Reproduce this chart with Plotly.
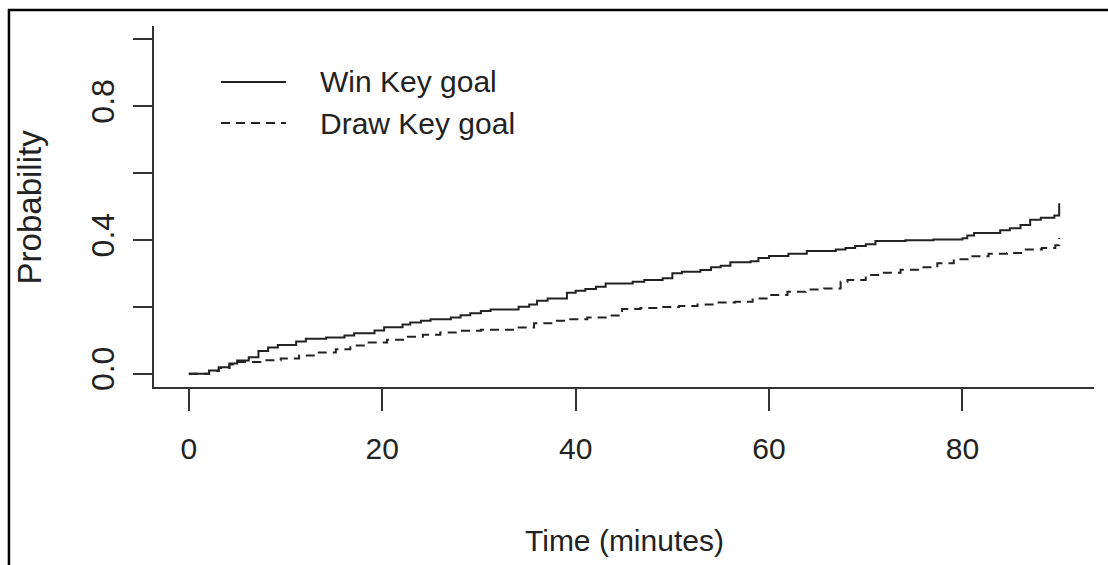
import plotly.graph_objects as go

# Cumulative probability of a key goal by match minute (step functions)
win_time = [0, 2.1, 3.1, 4.2, 5.0, 6.2, 7.2, 8.2, 9.2, 11.1, 12.1, 14.2, 16.1, 17.1,
            19.2, 20.2, 22.1, 22.9, 24.0, 25.0, 27.1, 28.1, 29.1, 30.2, 31.2, 34.1,
            35.2, 36.0, 37.1, 39.1, 40.0, 41.0, 42.1, 43.1, 45.9, 47.1, 49.0, 50.0,
            51.0, 52.9, 54.0, 55.0, 56.0, 58.1, 58.9, 60.0, 62.0, 63.9, 66.9, 67.9,
            68.9, 70.0, 71.0, 74.1, 77.0, 80.0, 80.5, 81.2, 83.9, 84.9, 86.0, 87.0,
            88.1, 89.5, 90.0]
win_prob = [0.0, 0.009, 0.019, 0.030, 0.039, 0.049, 0.068, 0.078, 0.086, 0.096, 0.104,
            0.108, 0.114, 0.121, 0.129, 0.139, 0.147, 0.153, 0.158, 0.163, 0.168,
            0.175, 0.181, 0.187, 0.192, 0.200, 0.207, 0.218, 0.225, 0.242, 0.248,
            0.253, 0.260, 0.270, 0.275, 0.280, 0.285, 0.300, 0.305, 0.310, 0.318,
            0.323, 0.333, 0.336, 0.346, 0.352, 0.359, 0.367, 0.371, 0.376, 0.382,
            0.387, 0.397, 0.399, 0.401, 0.405, 0.413, 0.421, 0.429, 0.435, 0.445,
            0.460, 0.466, 0.473, 0.510]

draw_time = [0, 2.1, 3.1, 4.2, 5.0, 7.4, 9.5, 11.4, 13.3, 15.2, 16.7, 18.6, 20.5, 22.3,
             24.2, 26.0, 28.1, 30.2, 33.8, 35.7, 37.6, 39.3, 41.2, 43.1, 44.8, 46.7,
             48.6, 50.7, 52.6, 54.5, 56.5, 58.3, 60.0, 61.9, 63.8, 65.7, 67.4, 68.1,
             70.0, 71.7, 73.6, 75.5, 77.4, 79.1, 80.8, 82.7, 84.6, 86.3, 88.2, 89.6,
             90.0]
draw_prob = [0.0, 0.008, 0.017, 0.027, 0.035, 0.040, 0.045, 0.054, 0.063, 0.073, 0.084,
             0.093, 0.101, 0.110, 0.116, 0.123, 0.128, 0.131, 0.138, 0.151, 0.158,
             0.163, 0.168, 0.174, 0.193, 0.196, 0.199, 0.202, 0.207, 0.213, 0.215,
             0.225, 0.235, 0.245, 0.252, 0.255, 0.275, 0.280, 0.295, 0.302, 0.311,
             0.318, 0.330, 0.342, 0.351, 0.359, 0.361, 0.371, 0.376, 0.384, 0.406]

series_names = ["Win Key goal", "Draw Key goal"]
x_ticks = [0, 20, 40, 60, 80]
y_ticks = [0.0, 0.2, 0.4, 0.6, 0.8, 1.0]
y_tick_text = ["0.0", "", "0.4", "", "0.8", ""]

INK = "#222222"
FONT = "Liberation Sans, Arial, sans-serif"
DASH = "9px,6px"

fig = go.Figure()
fig.add_trace(go.Scatter(x=win_time, y=win_prob, mode="lines", line_shape="hv",
                         name=series_names[0],
                         line=dict(color=INK, width=2)))
fig.add_trace(go.Scatter(x=draw_time, y=draw_prob, mode="lines", line_shape="hv",
                         name=series_names[1],
                         line=dict(color=INK, width=2, dash=DASH)))

fig.update_layout(
    width=1108, height=565,
    margin=dict(l=154, r=14, t=26, b=178),
    plot_bgcolor="white", paper_bgcolor="white",
    showlegend=False,
    font=dict(family=FONT, size=30, color=INK),
)

fig.update_xaxes(range=[-3.6, 93.6], tickvals=x_ticks, ticks="outside", ticklen=22,
                 tickwidth=1.6, tickcolor="#333", showline=True, linecolor="#333",
                 linewidth=2, showgrid=False, zeroline=False,
                 ticklabelstandoff=12,
                 tickfont=dict(family=FONT, size=30, color=INK))
fig.update_yaxes(range=[-0.04, 1.04], tickvals=y_ticks, ticktext=y_tick_text,
                 ticks="outside", ticklen=19, tickwidth=1.6, tickcolor="#333",
                 showline=True, linecolor="#333", linewidth=2, showgrid=False,
                 zeroline=False, tickangle=-90, ticklabelstandoff=6,
                 tickfont=dict(family=FONT, size=32, color=INK))

# axis titles
fig.add_annotation(text="Time (minutes)", xref="paper", yref="paper", x=0.5, y=-0.424,
                   xanchor="center", yanchor="middle", showarrow=False,
                   font=dict(family=FONT, size=30, color=INK))
fig.add_annotation(text="Probability", xref="paper", yref="paper", x=-0.132, y=0.5,
                   xanchor="center", yanchor="middle", showarrow=False, textangle=-90,
                   font=dict(family=FONT, size=33, color=INK))

# legend key
legend_rows = [(0.845, None), (0.731, DASH)]
for (ly, dash), name in zip(legend_rows, series_names):
    fig.add_shape(type="line", xref="paper", yref="paper", x0=0.0713, x1=0.1404,
                  y0=ly, y1=ly, line=dict(color=INK, width=2, dash=dash))
    fig.add_annotation(text=name, xref="paper", yref="paper", x=0.1745, y=ly,
                       xanchor="left", yanchor="middle", showarrow=False,
                       font=dict(family=FONT, size=30, color=INK))

# outer frame around the figure
fig.add_shape(type="rect", xref="paper", yref="paper", x0=-0.1543, x1=1.2,
              y0=-0.7, y1=1.0443, line=dict(color="black", width=2.5),
              fillcolor="rgba(0,0,0,0)", layer="above")

fig.write_html("out.html")
